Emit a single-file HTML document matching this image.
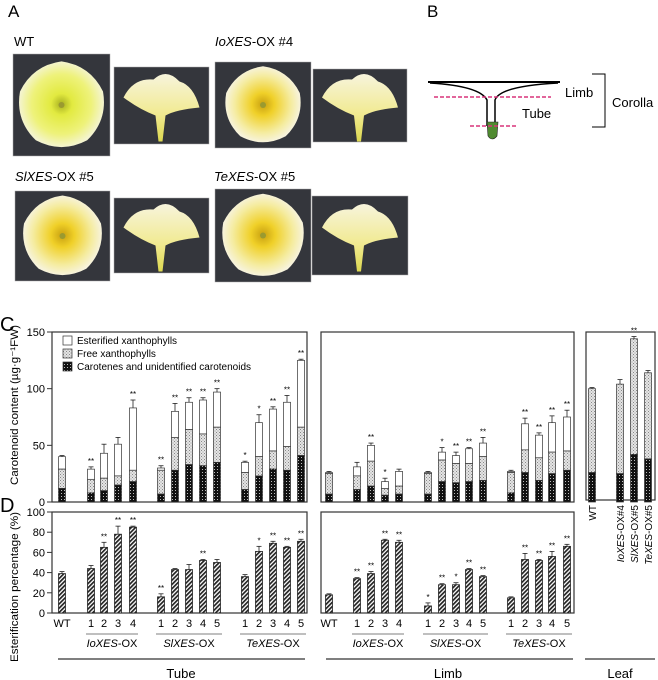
<!DOCTYPE html>
<html><head><meta charset="utf-8"><style>
body{margin:0;background:#fff;}
svg{display:block;font-family:"Liberation Sans",Arial,sans-serif;}
</style></head><body>
<svg id="fig" width="658" height="680" viewBox="0 0 658 680" xmlns="http://www.w3.org/2000/svg">
<defs>
<pattern id="pFree" width="3" height="3" patternUnits="userSpaceOnUse"><rect width="3" height="3" fill="#e4e4e4"/><rect x="0" y="0" width="1" height="1" fill="#888"/><rect x="1.5" y="1.5" width="1" height="1" fill="#999"/></pattern>
<pattern id="pCar" width="3" height="3" patternUnits="userSpaceOnUse"><rect width="3" height="3" fill="#111"/><rect x="1" y="1" width="1" height="1" fill="#bbb"/></pattern>
<pattern id="pHatch" width="3" height="3" patternUnits="userSpaceOnUse" patternTransform="rotate(45)"><rect width="3" height="3" fill="#fff"/><rect width="1.7" height="3" fill="#222"/></pattern>
<radialGradient id="gFl" cx="50%" cy="50%" r="50%"><stop offset="0" stop-color="#a8b020"/><stop offset="0.25" stop-color="#e2ea40"/><stop offset="0.7" stop-color="#eef27a"/><stop offset="1" stop-color="#f4f4d0"/></radialGradient>
<radialGradient id="gFl2" cx="50%" cy="50%" r="50%"><stop offset="0" stop-color="#c8a010"/><stop offset="0.3" stop-color="#f0d028"/><stop offset="0.75" stop-color="#f5eca0"/><stop offset="1" stop-color="#f7f3dc"/></radialGradient>
<linearGradient id="gTube" x1="0" y1="0" x2="0" y2="1"><stop offset="0" stop-color="#f7f4dc"/><stop offset="0.6" stop-color="#f1ea90"/><stop offset="1" stop-color="#dcd850"/></linearGradient>
</defs>

<!-- Panel A -->
<text x="8" y="17" font-size="17">A</text>
<text x="14" y="46" font-size="13">WT</text>
<text x="215" y="46" font-size="13"><tspan font-style="italic">IoXES</tspan>-OX #4</text>
<text x="15" y="181" font-size="13"><tspan font-style="italic">SlXES</tspan>-OX #5</text>
<text x="214" y="181" font-size="13"><tspan font-style="italic">TeXES</tspan>-OX #5</text>
<g id="photos"></g>

<!-- Panel B -->
<text x="427" y="17" font-size="17">B</text>
<g>
<line x1="428" y1="82" x2="560" y2="82" stroke="#000" stroke-width="2"/>
<path d="M430 83 Q480 86 487 100 L487 126" fill="none" stroke="#000" stroke-width="1.5"/>
<path d="M558 83 Q500 86 495 100 L495 126" fill="none" stroke="#000" stroke-width="1.5"/>
<path d="M487 122 L498 122 L497 136 Q492 142 488 136 Z" fill="#4f8a30" stroke="#222" stroke-width="0.6"/>
<line x1="434" y1="97" x2="551" y2="97" stroke="#d8347a" stroke-width="1.5" stroke-dasharray="4,2"/>
<line x1="470" y1="126" x2="517" y2="126" stroke="#d8347a" stroke-width="1.5" stroke-dasharray="4,2"/>
<path d="M592 74 L605 74 L605 127 L592 127" fill="none" stroke="#000" stroke-width="1"/>
</g>
<text x="565" y="97" font-size="13">Limb</text>
<text x="522" y="118" font-size="13">Tube</text>
<text x="612" y="107" font-size="13">Corolla</text>

<!-- Panel C/D -->
<text x="0" y="331" font-size="20">C</text>
<text x="0" y="512" font-size="20">D</text>
<text transform="translate(18,405) rotate(-90)" text-anchor="middle" font-size="11" textLength="160" lengthAdjust="spacingAndGlyphs">Carotenoid content (µg·g⁻¹FW)</text>
<text transform="translate(18,587) rotate(-90)" text-anchor="middle" font-size="11" textLength="150" lengthAdjust="spacingAndGlyphs">Esterification percentage (%)</text>
<g id="charts"></g>
</svg>
<script>
// ---- data ----
var tubeX = ["WT","1","2","3","4","1","2","3","4","5","1","2","3","4","5"];
var tubeCar = [12,8,10,15,18,7,28,33,32,35,11,23,29,28,41];
var tubeFree = [29,20,21,23,28,28,57,64,60,66,26,40,45,49,66];
var tubeTotal = [40,29,43,51,83,30,80,88,90,97,35,70,82,88,125];
var tubeErr = [1,2,8,6,7,2,7,4,2,3,1,7,2,6,1];
var tubeSig = ["","**","","","**","**","**","**","**","**","*","*","**","**","**"];
var tubeEst = [39,44,65,78,85,16,43,43,52,50,36,61,69,65,71];
var tubeEstErr = [2,3,5,8,1,3,1,5,1,3,2,5,2,1,2];
var tubeEstSig = ["","","**","**","**","**","","","**","","","*","**","**","**"];

var limbX = ["WT","1","2","3","4","1","2","3","4","5","1","2","3","4","5"];
var limbCar = [7,11,14,6,7,7,18,17,18,19,8,26,19,25,28];
var limbFree = [25,23,36,12,14,25,37,34,34,40,26,46,39,44,45];
var limbTotal = [26,31,50,18,27,26,44,41,47,52,27,69,59,70,75];
var limbErr = [1,4,2,3,2,1,4,3,1,5,1,5,2,6,6];
var limbSig = ["","","**","*","","","*","**","**","**","","**","**","**","**"];
var limbEst = [18,34,39,72,70,7,28,28,43,36,15,53,52,56,66];
var limbEstErr = [1,1,2,1,2,3,1,2,1,1,1,6,1,5,2];
var limbEstSig = ["","**","**","**","**","*","**","*","**","**","","**","**","**","**"];

var leafX = ["WT","IoXES-OX#4","SlXES-OX#5","TeXES-OX#5"];
var leafCar = [26,25,42,38];
var leafTotal = [100,104,144,114];
var leafErr = [1,4,2,2];
var leafSig = ["","","**",""];

var cTicks = [0,50,100,150];
var dTicks = [0,20,40,60,80,100];
var groups = ["IoXES","SlXES","TeXES"];

// ---- layout ----
var tubeSlots = [62,91,104,118,133,161,175,189,203,217,245,259,273,287,301];
var limbSlots = [329,357,371,385,399,428,442,456,469,483,511,525,539,552,567];
var leafSlots = [592,620,634,648];
function yC(v){return 502 - v*170/150;}
function yD(v){return 613 - v*101/100;}
var NS="http://www.w3.org/2000/svg";
var root=document.getElementById('charts');
function mk(tag,attrs,parent){var e=document.createElementNS(NS,tag);for(var k in attrs)e.setAttribute(k,attrs[k]);(parent||root).appendChild(e);return e;}
var BW=7;

function box(x0,x1,y0,y1,name){
  var r=mk('rect',{x:x0,y:y0,width:x1-x0,height:y1-y0,fill:'none',stroke:'#333','stroke-width':1.2});
  
  
}
box(52,307,332,502,'c-tube-plot-frame');
box(321,574,332,502,'c-limb-plot-frame');
box(586,655,332,500,'c-leaf-plot-frame');
box(52,307,512,613,'d-tube-plot-frame');
box(321,574,512,613,'d-limb-plot-frame');

cTicks.forEach(function(t){
  mk('line',{x1:47,x2:52,y1:yC(t),y2:yC(t),stroke:'#333'});
  var tx=mk('text',{x:45,y:yC(t)+4,'font-size':11,'text-anchor':'end'});tx.textContent=t;
  
  
});
dTicks.forEach(function(t){
  mk('line',{x1:47,x2:52,y1:yD(t),y2:yD(t),stroke:'#333'});
  var tx=mk('text',{x:45,y:yD(t)+4,'font-size':11,'text-anchor':'end'});tx.textContent=t;
  
  
});

function errBar(x,top,e,yf){
  var y1=yf(top), y2=yf(top+e);
  mk('line',{x1:x,x2:x,y1:y1,y2:y2,stroke:'#222','stroke-width':0.8});
  mk('line',{x1:x-2.5,x2:x+2.5,y1:y2,y2:y2,stroke:'#222','stroke-width':0.8});
}
function sig(x,y,s){ if(!s)return; var t=mk('text',{x:x,y:y,'font-size':8,'text-anchor':'middle'});t.textContent=s;
  
  }

function stacked(slots,car,free,total,err,sg,pfx){
  slots.forEach(function(x,i){
    var g=mk('g',{});
    
    
    var l=x-BW/2;
    mk('rect',{x:l,y:yC(total[i]),width:BW,height:yC(free[i])-yC(total[i]),fill:'#fff',stroke:'#333','stroke-width':0.7},g);
    mk('rect',{x:l,y:yC(free[i]),width:BW,height:yC(car[i])-yC(free[i]),fill:'url(#pFree)',stroke:'#333','stroke-width':0.7},g);
    mk('rect',{x:l,y:yC(car[i]),width:BW,height:502-yC(car[i]),fill:'url(#pCar)',stroke:'#333','stroke-width':0.7},g);
    errBar(x,total[i],err[i],yC);
    sig(x,yC(total[i]+err[i])-3,sg[i]);
  });
}
stacked(tubeSlots,tubeCar,tubeFree,tubeTotal,tubeErr,tubeSig,'c-tube');
stacked(limbSlots,limbCar,limbFree,limbTotal,limbErr,limbSig,'c-limb');
stacked(leafSlots,leafCar,leafTotal,leafTotal,leafErr,leafSig,'c-leaf');

function est(slots,v,err,sg,pfx){
  slots.forEach(function(x,i){
    var r=mk('rect',{x:x-BW/2,y:yD(v[i]),width:BW,height:613-yD(v[i]),fill:'url(#pHatch)',stroke:'#222','stroke-width':0.8});
    
    
    errBar(x,v[i],err[i],yD);
    sig(x,yD(v[i]+err[i])-3,sg[i]);
  });
}
est(tubeSlots,tubeEst,tubeEstErr,tubeEstSig,'d-tube');
est(limbSlots,limbEst,limbEstErr,limbEstSig,'d-limb');

function xlabels(slots,labels,pfx){
  slots.forEach(function(x,i){
    var t=mk('text',{x:x,y:627,'font-size':11,'text-anchor':'middle'});t.textContent=labels[i];
    
    
  });
  var gi=[[1,4],[5,9],[10,14]];
  gi.forEach(function(p,k){
    var a=slots[p[0]]-5,b=slots[p[1]]+5;
    mk('line',{x1:a,x2:b,y1:634,y2:634,stroke:'#555','stroke-width':0.8});
    var t=mk('text',{x:(a+b)/2,y:647,'font-size':11,'text-anchor':'middle'});
    var s=document.createElementNS(NS,'tspan');s.setAttribute('font-style','italic');s.textContent=groups[k];t.appendChild(s);
    var s2=document.createElementNS(NS,'tspan');s2.textContent='-OX';t.appendChild(s2);
    
    
  });
}
xlabels(tubeSlots,tubeX,'tube');
xlabels(limbSlots,limbX,'limb');
leafSlots.forEach(function(x,i){
  var t=mk('text',{transform:'translate('+(x+4)+',505) rotate(-90)','font-size':10,'text-anchor':'end'});
  if(i===0){t.textContent=leafX[i];}
  else{var s=document.createElementNS(NS,'tspan');s.setAttribute('font-style','italic');s.textContent=leafX[i].split('-')[0];t.appendChild(s);
    var s2=document.createElementNS(NS,'tspan');s2.textContent='-'+leafX[i].split('-').slice(1).join('-');t.appendChild(s2);}
  
  
});
[[58,305,'Tube',181],[326,573,'Limb',448],[585,655,'Leaf',620]].forEach(function(o){
  mk('line',{x1:o[0],x2:o[1],y1:659,y2:659,stroke:'#333','stroke-width':1.2});
  var t=mk('text',{x:o[3],y:678,'font-size':13,'text-anchor':'middle'});t.textContent=o[2];
  
  
});

var leg=[['url(#pCar)','Carotenes and unidentified carotenoids',368],['url(#pFree)','Free xanthophylls',355],['#fff','Esterified xanthophylls',342]];
leg.forEach(function(l){
  var g=mk('g',{});
  
  
  mk('rect',{x:63,y:l[2]-6,width:9,height:9,fill:l[0],stroke:'#333','stroke-width':0.7},g);
  var t=mk('text',{x:77,y:l[2]+2,'font-size':10},g);t.textContent=l[1];
});

// photos
var ph=document.getElementById('photos');
var photos=[[13,54,97,102,'f','gFl'],[114,67,95,77,'t','gFl'],[215,62,96,86,'f','gFl2'],[313,69,94,73,'t','gFl2'],
 [15,191,95,90,'f','gFl2'],[114,198,95,75,'t','gFl2'],[215,189,96,93,'f','gFl2'],[312,196,96,79,'t','gFl2']];
function flowerPath(cx,cy,R){
  var d='',n=5;
  for(var k=0;k<n;k++){
    var a0=(k/n)*2*Math.PI-Math.PI/2, a1=((k+0.5)/n)*2*Math.PI-Math.PI/2, a2=((k+1)/n)*2*Math.PI-Math.PI/2;
    var px=cx+R*Math.cos(a0), py=cy+R*Math.sin(a0);
    if(k===0) d+='M'+px.toFixed(1)+' '+py.toFixed(1);
    var c1x=cx+R*1.12*Math.cos(a1), c1y=cy+R*1.12*Math.sin(a1);
    var ex=cx+R*Math.cos(a2), ey=cy+R*Math.sin(a2);
    d+=' Q'+c1x.toFixed(1)+' '+c1y.toFixed(1)+' '+ex.toFixed(1)+' '+ey.toFixed(1);
  }
  return d+'Z';
}
photos.forEach(function(p,i){
  var g=mk('g',{},ph);
  
  
  mk('rect',{x:p[0],y:p[1],width:p[2],height:p[3],fill:'#34363c',stroke:'#aaa','stroke-width':0.5},g);
  var cx=p[0]+p[2]/2, cy=p[1]+p[3]/2;
  if(p[4]==='f'){
    mk('path',{d:flowerPath(cx,cy,Math.min(p[2],p[3])*0.45),fill:'url(#'+p[5]+')'},g);
    mk('circle',{cx:cx,cy:cy,r:3,fill:'#9a9a30'},g);
  } else {
    mk('path',{d:'M'+(cx-38)+' '+(cy-8)+' Q'+(cx-28)+' '+(cy-28)+' '+(cx-8)+' '+(cy-26)+' Q'+(cx+5)+' '+(cy-38)+' '+(cx+18)+' '+(cy-24)+' Q'+(cx+32)+' '+(cy-20)+' '+(cx+38)+' '+(cy+2)+' Q'+(cx+15)+' '+(cy+4)+' '+(cx+4)+' '+(cy+10)+' L'+(cx+1)+' '+(cy+36)+' L'+(cx-3)+' '+(cy+36)+' L'+(cx-6)+' '+(cy+10)+' Q'+(cx-22)+' '+(cy+4)+' '+(cx-38)+' '+(cy-8)+' Z',fill:'url(#gTube)'},g);
  }
});
</script>
</body></html>
